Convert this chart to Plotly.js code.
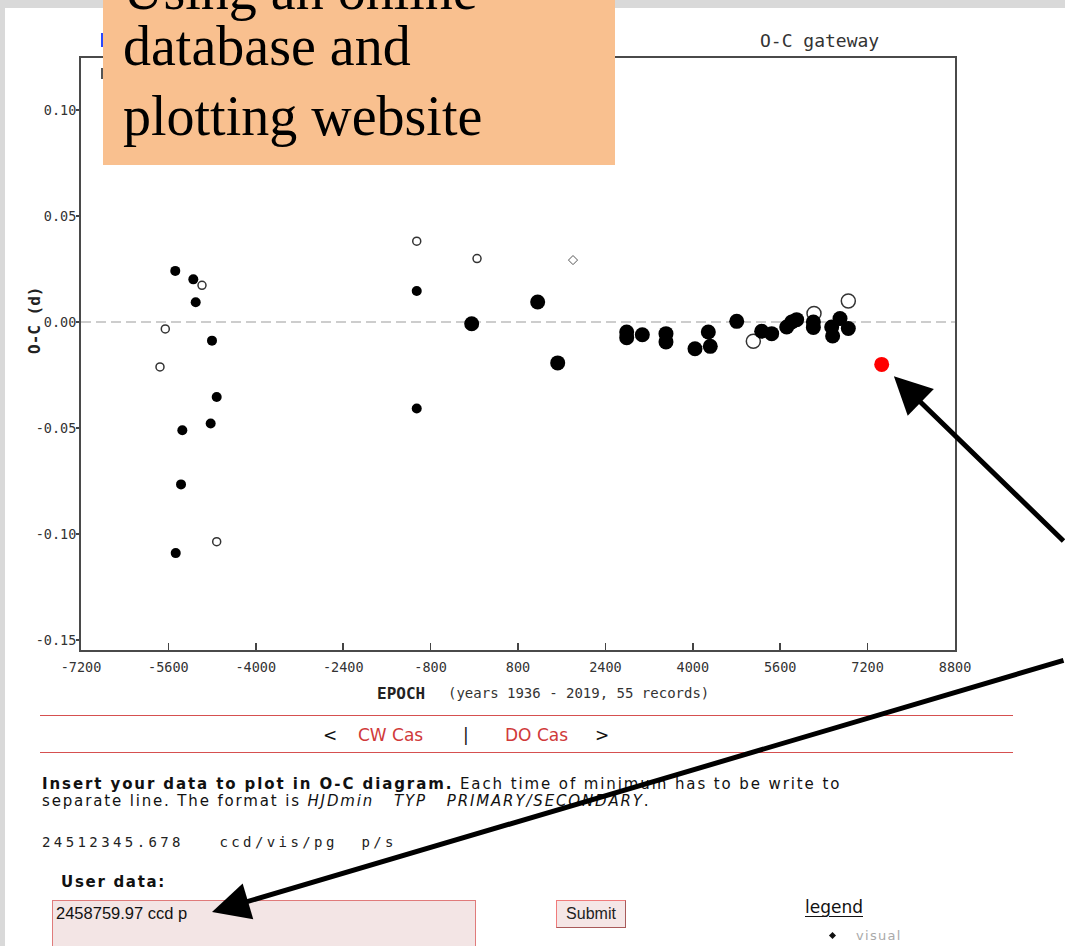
<!DOCTYPE html>
<html><head><meta charset="utf-8">
<script src="https://cdn.plot.ly/plotly-3.0.1.min.js"></script>
<style>
html,body{margin:0;padding:0;background:#fff;}
#page{position:relative;width:1065px;height:946px;overflow:hidden;background:#fff;font-family:"DejaVu Sans",sans-serif;}
.abs{position:absolute;white-space:pre;}
#plot{position:absolute;left:0;top:0;width:1065px;height:946px;z-index:2;}
.nav{font-size:17px;line-height:20px;top:725px;}
.red{color:#d03a3a;}
</style></head><body>
<div id="page">
  <div class="abs" style="left:0;top:0;width:1065px;height:8px;background:#d9d9d9"></div>
  <div class="abs" style="left:0;top:0;width:5px;height:946px;background:#d9d9d9"></div>
  <div class="abs" style="left:40px;top:715px;width:973px;height:1px;background:#d65050"></div>
  <div class="abs" style="left:40px;top:752px;width:973px;height:1px;background:#d65050"></div>
  <div class="abs nav" style="left:323px;color:#111">&lt;</div>
  <div class="abs nav red" style="left:358px">CW Cas</div>
  <div class="abs nav" style="left:463px;color:#111">|</div>
  <div class="abs nav red" style="left:505px">DO Cas</div>
  <div class="abs nav" style="left:595px;color:#111">&gt;</div>

  <div class="abs" style="left:42px;top:774px;font-size:15px;line-height:20px;letter-spacing:1.9px;color:#111"><b>Insert your data to plot in O-C diagram.</b> Each time of minimum has to be write to</div>
  <div class="abs" style="left:42px;top:791px;font-size:15px;line-height:20px;letter-spacing:1.85px;color:#111">separate line. The format is <i>HJDmin</i>   <i>TYP</i>   <i>PRIMARY/SECONDARY</i>.</div>
  <div class="abs" style="left:42px;top:832px;font-family:'DejaVu Sans Mono',monospace;font-size:14px;line-height:20px;letter-spacing:3.4px;color:#222">24512345.678   ccd/vis/pg  p/s</div>
  <div class="abs" style="left:61px;top:872px;font-size:15px;line-height:20px;letter-spacing:1.7px;font-weight:bold;color:#111">User data:</div>

  <div class="abs" style="left:52px;top:900px;width:424px;height:70px;box-sizing:border-box;border:1.5px solid #e07b7b;background:#f3e5e5;"></div>
  <div class="abs" style="left:56px;top:903px;font-family:'Liberation Sans',Arial,sans-serif;font-size:16.5px;line-height:20px;color:#111">2458759.97 ccd p</div>

  <div class="abs" style="left:556px;top:900px;width:70px;height:28px;box-sizing:border-box;border:1.5px solid;border-color:#f07b7b #a85a5a #a85a5a #f07b7b;background:#f5e6e6;font-family:'Liberation Sans',Arial,sans-serif;font-size:16px;line-height:25px;text-align:center;color:#222">Submit</div>

  <div class="abs" style="left:805px;top:897px;font-size:17px;line-height:20px;color:#111;text-decoration:underline;text-underline-offset:3px">legend</div>
  <div class="abs" style="left:830px;top:933px;width:5px;height:5px;background:#111;transform:rotate(45deg)"></div>
  <div class="abs" style="left:856px;top:927px;font-size:13px;line-height:18px;letter-spacing:1.3px;color:#aaa">visual</div>

  <div id="plot"></div>
</div>
<script>
// ---- data ----
const xTickVals = [-7200, -5600, -4000, -2400, -800, 800, 2400, 4000, 5600, 7200, 8800];
const xTickText = ['-7200', '-5600', '-4000', '-2400', '-800', '800', '2400', '4000', '5600', '7200', '8800'];
const yTickVals = [-0.15, -0.10, -0.05, 0.00, 0.05, 0.10];
const yTickText = ['-0.15', '-0.10', '-0.05', '0.00', '0.05', '0.10'];

// older (small) filled minima
const smallFilledEpoch = [-5474, -5144, -5100, -4802, -4716, -4826, -5345, -5369, -5466, -1054, -1054];
const smallFilledOC    = [0.0241, 0.0201, 0.0093, -0.0088, -0.0354, -0.0479, -0.0511, -0.0766, -0.109, 0.0146, -0.0408];
// older (small) open minima
const smallOpenEpoch = [-4985, -5657, -5754, -4716, -1054, 50];
const smallOpenOC    = [0.0173, -0.0033, -0.0212, -0.1036, 0.0381, 0.0299];
// visual minimum
const visualEpoch = [1807];
const visualOC    = [0.0292];
// recent (large) filled minima
const bigFilledEpoch = [-48, 1160, 1527, 2790, 2790, 3076, 3509, 3509, 4040, 4284, 4320, 4804, 5261, 5444, 5719, 5810, 5901, 6207, 6207, 6543, 6560, 6695, 6847];
const bigFilledOC    = [-0.0008, 0.0094, -0.0193, -0.0047, -0.0074, -0.0060, -0.0055, -0.0094, -0.0126, -0.0047, -0.0115, 0.0003, -0.0044, -0.0055, -0.0024, 0.0000, 0.0011, 0.0000, -0.0026, -0.0024, -0.0066, 0.0016, -0.0031];
// recent (large) open minima
const bigOpenEpoch = [5108, 6219, 6847];
const bigOpenOC    = [-0.0091, 0.0040, 0.0099];
// user data point
const userEpoch = [7458];
const userOC    = [-0.020];

// ---- layout helpers (pixel -> paper) ----
const L = 81, R = 955, T = 58, B = 650;
const px = p => (p - L) / (R - L);
const py = p => (B - p) / (B - T);

const mono = 'DejaVu Sans Mono, monospace';
const traces = [
  {x: smallOpenEpoch, y: smallOpenOC, mode: 'markers', type: 'scatter',
   marker: {symbol: 'circle', size: 8, color: '#fff', line: {color: '#333', width: 1.5}}},
  {x: bigOpenEpoch, y: bigOpenOC, mode: 'markers', type: 'scatter',
   marker: {symbol: 'circle', size: 14, color: '#fff', line: {color: '#333', width: 1.5}}},
  {x: visualEpoch, y: visualOC, mode: 'markers', type: 'scatter',
   marker: {symbol: 'diamond-open', size: 7, color: '#555', line: {color: '#555', width: 1}}},
  {x: smallFilledEpoch, y: smallFilledOC, mode: 'markers', type: 'scatter',
   marker: {symbol: 'circle', size: 10, color: '#000', line: {width: 0}}},
  {x: bigFilledEpoch, y: bigFilledOC, mode: 'markers', type: 'scatter',
   marker: {symbol: 'circle', size: 15, color: '#000', line: {width: 0}}},
  {x: userEpoch, y: userOC, mode: 'markers', type: 'scatter',
   marker: {symbol: 'circle', size: 15, color: '#ff0000', line: {width: 0}}}
];

const orangeFont = {family: 'Liberation Serif, Times New Roman, serif', size: 56, color: '#000'};
const layout = {
  width: 1065, height: 946,
  margin: {l: L, r: 1065 - R, t: T, b: 946 - B, pad: 0},
  paper_bgcolor: 'rgba(0,0,0,0)', plot_bgcolor: 'rgba(0,0,0,0)',
  showlegend: false,
  font: {family: mono, color: '#333'},
  xaxis: {range: [-7200, 8800], tickmode: 'array', tickvals: xTickVals, ticktext: xTickText,
          ticks: 'inside', ticklen: 7, tickwidth: 1.5, tickcolor: '#444', ticklabelstandoff: 4,
          showline: true, linecolor: '#4a4a4a', linewidth: 2, mirror: true,
          showgrid: false, zeroline: false, tickfont: {family: mono, size: 13.5, color: '#333'}},
  yaxis: {range: [-0.1547, 0.1245], tickmode: 'array', tickvals: yTickVals, ticktext: yTickText,
          ticks: 'outside', ticklen: 3, tickwidth: 1.5, tickcolor: '#444', ticklabelstandoff: -3,
          showline: true, linecolor: '#4a4a4a', linewidth: 2, mirror: true,
          showgrid: false, zeroline: false, tickfont: {family: mono, size: 13.5, color: '#333'}},
  shapes: [
    {type: 'line', xref: 'paper', yref: 'y', x0: 0, x1: 1, y0: 0, y1: 0, layer: 'below',
     line: {color: '#bdbdbd', width: 1.5, dash: '10px,5px'}},
    {type: 'rect', xref: 'paper', yref: 'paper', x0: px(101), x1: px(103.5), y0: py(47), y1: py(33),
     fillcolor: '#2a48ff', line: {width: 0}, layer: 'above'},
    {type: 'rect', xref: 'paper', yref: 'paper', x0: px(101), x1: px(103.5), y0: py(79), y1: py(68),
     fillcolor: '#555', line: {width: 0}, layer: 'above'},
    {type: 'rect', xref: 'paper', yref: 'paper', x0: px(103), x1: px(615), y0: py(165), y1: py(-2),
     fillcolor: '#f9c08f', line: {width: 0}, layer: 'above'}
  ],
  annotations: [
    {xref: 'paper', yref: 'paper', x: px(34), y: py(321), text: '<b>O-C (d)</b>', textangle: -90,
     showarrow: false, xanchor: 'center', yanchor: 'middle', font: {family: mono, size: 16, color: '#222'}},
    {xref: 'paper', yref: 'paper', x: px(375), y: py(693), text: '<b>EPOCH</b>',
     showarrow: false, xanchor: 'left', yanchor: 'middle', font: {family: mono, size: 16, color: '#222'}},
    {xref: 'paper', yref: 'paper', x: px(446), y: py(693), text: '(years 1936 - 2019, 55 records)',
     showarrow: false, xanchor: 'left', yanchor: 'middle', font: {family: mono, size: 14, color: '#333'}},
    {xref: 'paper', yref: 'paper', x: px(819), y: py(41), text: 'O-C gateway',
     showarrow: false, xanchor: 'center', yanchor: 'middle', font: {family: mono, size: 18, color: '#333'}},
    {xref: 'paper', yref: 'paper', x: px(121), y: py(-10), text: 'Using an online',
     showarrow: false, xanchor: 'left', yanchor: 'middle', font: orangeFont},
    {xref: 'paper', yref: 'paper', x: px(121), y: py(46), text: 'database and',
     showarrow: false, xanchor: 'left', yanchor: 'middle', font: orangeFont},
    {xref: 'paper', yref: 'paper', x: px(121), y: py(116), text: 'plotting website',
     showarrow: false, xanchor: 'left', yanchor: 'middle', font: orangeFont},
    {xref: 'x', yref: 'y', x: userEpoch[0], y: userOC[0], text: '', showarrow: true,
     ax: 185, ay: 178, standoff: 17, arrowhead: 2, arrowsize: 1.5, arrowwidth: 5, arrowcolor: '#000'},
    {xref: 'paper', yref: 'paper', x: px(212), y: py(912), text: '', showarrow: true,
     ax: 863, ay: -252, standoff: 0, arrowhead: 2, arrowsize: 1.5, arrowwidth: 5, arrowcolor: '#000'}
  ]
};
Plotly.newPlot('plot', traces, layout, {staticPlot: true, displayModeBar: false});
</script>
</body></html>
